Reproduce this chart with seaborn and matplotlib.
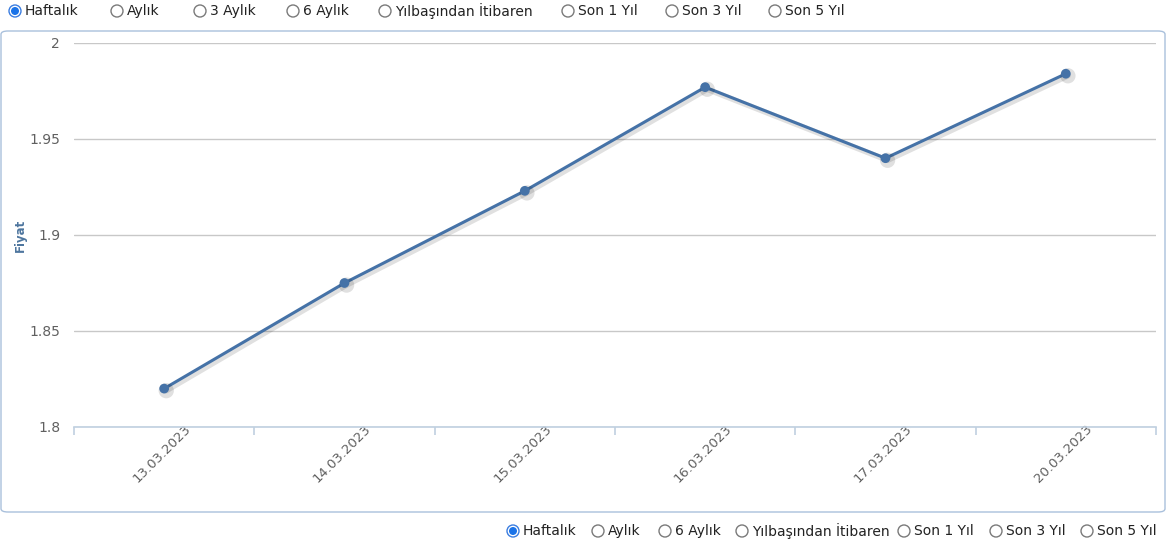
import matplotlib
matplotlib.use("Agg")
import matplotlib.pyplot as plt
import matplotlib.patheffects as pe
from matplotlib.patches import FancyBboxPatch, Circle
from matplotlib.transforms import ScaledTranslation
import seaborn as sns
import pandas as pd
import numpy as np

dates = ["13.03.2023", "14.03.2023", "15.03.2023", "16.03.2023", "17.03.2023", "20.03.2023"]
prices = [1.820, 1.875, 1.923, 1.977, 1.940, 1.984]
yticks = [1.8, 1.85, 1.9, 1.95, 2.0]
ytick_labels = ["1.8", "1.85", "1.9", "1.95", "2"]
top_options = ["Haftalık", "Aylık", "3 Aylık", "6 Aylık", "Yılbaşından İtibaren", "Son 1 Yıl", "Son 3 Yıl", "Son 5 Yıl"]
bottom_options = ["Haftalık", "Aylık", "6 Aylık", "Yılbaşından İtibaren", "Son 1 Yıl", "Son 3 Yıl", "Son 5 Yıl"]
y_label = "Fiyat"

sns.set_theme(style="white")
plt.rcParams['font.family'] = ['DejaVu Sans']

W, H = 1169, 551
fig = plt.figure(figsize=(W / 100, H / 100), dpi=100)
fig.patch.set_facecolor("white")

def fx(px):
    return px / W

def fy(py):
    return 1 - py / H

# panel border
panel = FancyBboxPatch((fx(1), fy(512)), fx(1165) - fx(1), fy(31) - fy(512),
                       boxstyle="round,pad=0,rounding_size=0.006",
                       transform=fig.transFigure, fill=False,
                       edgecolor="#a9c0dc", linewidth=1.0)
fig.patches.append(panel)

ax = fig.add_axes([fx(74), fy(427), fx(1156) - fx(74), fy(43) - fy(427)])
df = pd.DataFrame({"Tarih": dates, "Fiyat": prices})
df["pos"] = np.arange(len(dates))
sns.lineplot(data=df, x="pos", y="Fiyat", ax=ax, color="#4572A7", linewidth=2.2,
             marker="o", markersize=7, markeredgewidth=0, sort=False,
             path_effects=[pe.SimpleLineShadow(offset=(1.5, -1.5), shadow_color="black", alpha=0.12, linewidth=4),
                           pe.Normal()])

ax.set_xlim(-0.5, len(dates) - 0.5)
ax.set_ylim(1.8, 2.0)
ax.set_yticks(yticks)
ax.set_yticklabels(ytick_labels, color="#606060", fontsize=10)
ax.yaxis.grid(True, color="#c8c8c8", linewidth=1)
ax.xaxis.grid(False)
for s in ["top", "right", "left"]:
    ax.spines[s].set_visible(False)
ax.spines["bottom"].set_color("#c0d0e0")
ax.spines["bottom"].set_linewidth(1.2)
ax.tick_params(axis="y", length=0, pad=10)

ax.set_xticks(np.arange(len(dates)))
ax.set_xticklabels(dates, rotation=45, ha="right", rotation_mode="anchor", color="#606060", fontsize=9.5)
ax.set_xticks(np.arange(len(dates) + 1) - 0.5, minor=True)
ax.tick_params(axis="x", which="major", length=0, pad=2)
ax.tick_params(axis="x", which="minor", length=6, color="#c0d0e0", width=1.2, direction="out", bottom=True)
for lab in ax.get_xticklabels():
    lab.set_transform(lab.get_transform() + ScaledTranslation(0.20, 0.08, fig.dpi_scale_trans))
ax.set_xlabel("")
ax.set_ylabel("")
fig.text(fx(20), fy(235), y_label, rotation=90, ha="center", va="center",
         color="#4d759e", fontsize=8.5, fontweight="bold")

# radio buttons
def radio(cx, cy, label, selected):
    r = 6.0
    c = Circle((cx / 100, (H - cy) / 100), r / 100, transform=fig.dpi_scale_trans,
               facecolor="white", edgecolor="#7a7a7a" if not selected else "#3b7de0",
               linewidth=1.0)
    fig.patches.append(c)
    if selected:
        c2 = Circle((cx / 100, (H - cy) / 100), 4.0 / 100, transform=fig.dpi_scale_trans,
                    facecolor="#1a73e8", edgecolor="none")
        fig.patches.append(c2)
    fig.text(fx(cx + 10), fy(cy), label, ha="left", va="center", fontsize=10,
             color="#222222")

top_x = [15, 117, 200, 293, 385, 568, 672, 775]
for i, (x, lab) in enumerate(zip(top_x, top_options)):
    radio(x, 11, lab, i == 0)
bot_x = [513, 598, 665, 742, 904, 996, 1087]
for i, (x, lab) in enumerate(zip(bot_x, bottom_options)):
    radio(x, 531, lab, i == 0)

fig.savefig("out.png", dpi=100, facecolor="white")
